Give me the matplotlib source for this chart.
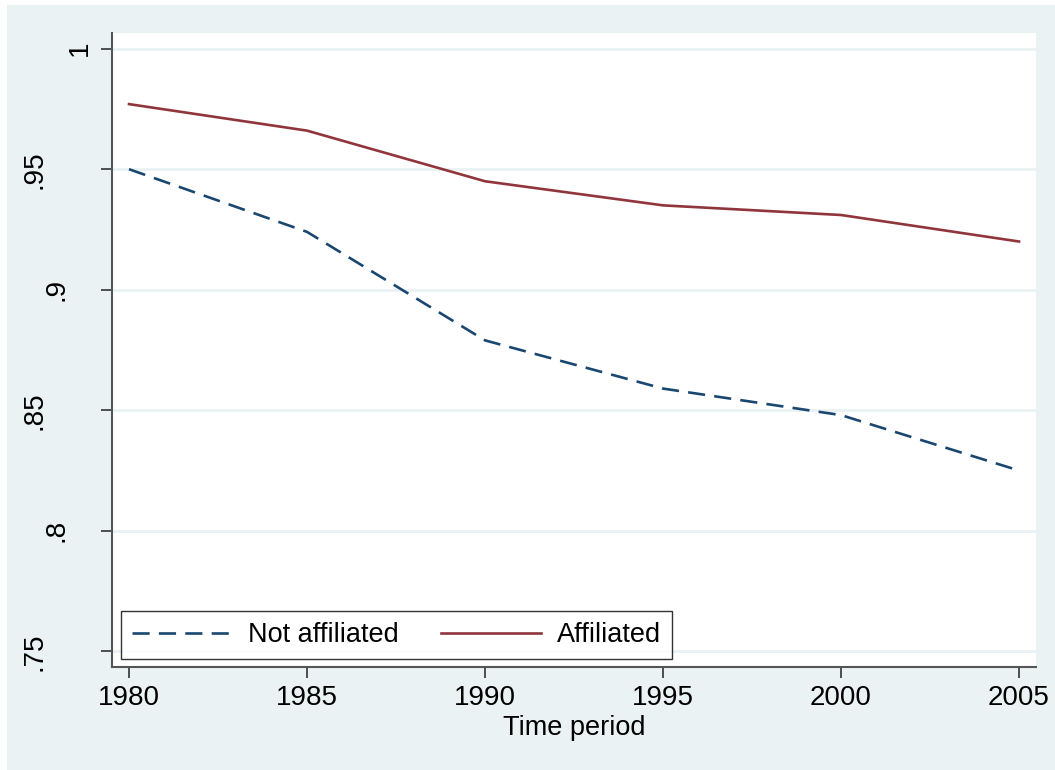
import matplotlib
matplotlib.use("Agg")
import matplotlib.pyplot as plt
from matplotlib.patches import Rectangle
from matplotlib.transforms import blended_transform_factory, ScaledTranslation

years = [1980, 1985, 1990, 1995, 2000, 2005]
not_affiliated = [0.950, 0.924, 0.879, 0.859, 0.848, 0.825]
affiliated = [0.977, 0.966, 0.945, 0.935, 0.931, 0.920]
yticks = [0.75, 0.8, 0.85, 0.9, 0.95, 1.0]
ytick_labels = [".75", ".8", ".85", ".9", ".95", "1"]
xticks = [1980, 1985, 1990, 1995, 2000, 2005]

plt.rcParams['font.family'] = ['Liberation Sans', 'DejaVu Sans']
W, H = 1055, 770
fig = plt.figure(figsize=(W / 100, H / 100), dpi=100)
fig.patch.set_facecolor('white')
bg = '#eaf2f3'
fig.add_artist(Rectangle((7 / W, 0), 1 - 7 / W, 1 - 5 / H, transform=fig.transFigure,
                         facecolor=bg, edgecolor='none', zorder=-10))

ax = fig.add_axes([112 / W, 1 - 667 / H, (1036 - 112) / W, (667 - 33) / H])
ax.set_facecolor('white')
navy = '#1a476f'
maroon = '#90353b'
ax.plot(years, not_affiliated, color=navy, lw=1.9, dashes=(6.5, 3.5), label='Not affiliated')
ax.plot(years, affiliated, color=maroon, lw=1.9, label='Affiliated')

ax.set_xlim(1979.522, 2005.477)
ax.set_ylim(0.7435, 1.0065)
ax.set_yticks(yticks)
ax.set_yticklabels([])
# Stata-style rotated y labels, offset by label length
for v, lab in zip(yticks, ytick_labels):
    off = (10 + 22.5 * len(lab)) / 100.0
    tr = blended_transform_factory(ax.transAxes, ax.transData) + \
        ScaledTranslation(-off, 0, fig.dpi_scale_trans)
    ax.text(0, v, lab, transform=tr, rotation=90, ha='center', va='center',
            fontsize=20, rotation_mode='anchor')
ax.set_xticks(xticks)
ax.set_xticklabels([str(x) for x in xticks], fontsize=20)
ax.grid(axis='y', color=bg, lw=2)
ax.set_axisbelow(True)
for s in ['top', 'right']:
    ax.spines[s].set_visible(False)
for s in ['left', 'bottom']:
    ax.spines[s].set_color('#555555')
    ax.spines[s].set_linewidth(1.5)
ax.tick_params(direction='out', length=8, width=1.2, color='#333333', pad=5)
ax.set_xlabel('Time period', fontsize=19.5, labelpad=3)

leg = ax.legend(loc='lower left', ncol=2, fontsize=19.5, frameon=True, fancybox=False,
                edgecolor='black', handlelength=3.7, columnspacing=1.55,
                bbox_to_anchor=(9 / 924, 8 / 634), borderaxespad=0, handletextpad=0.59,
                borderpad=0.4)
leg.get_frame().set_linewidth(1.0)

fig.savefig('out.png', dpi=100, facecolor='white')
